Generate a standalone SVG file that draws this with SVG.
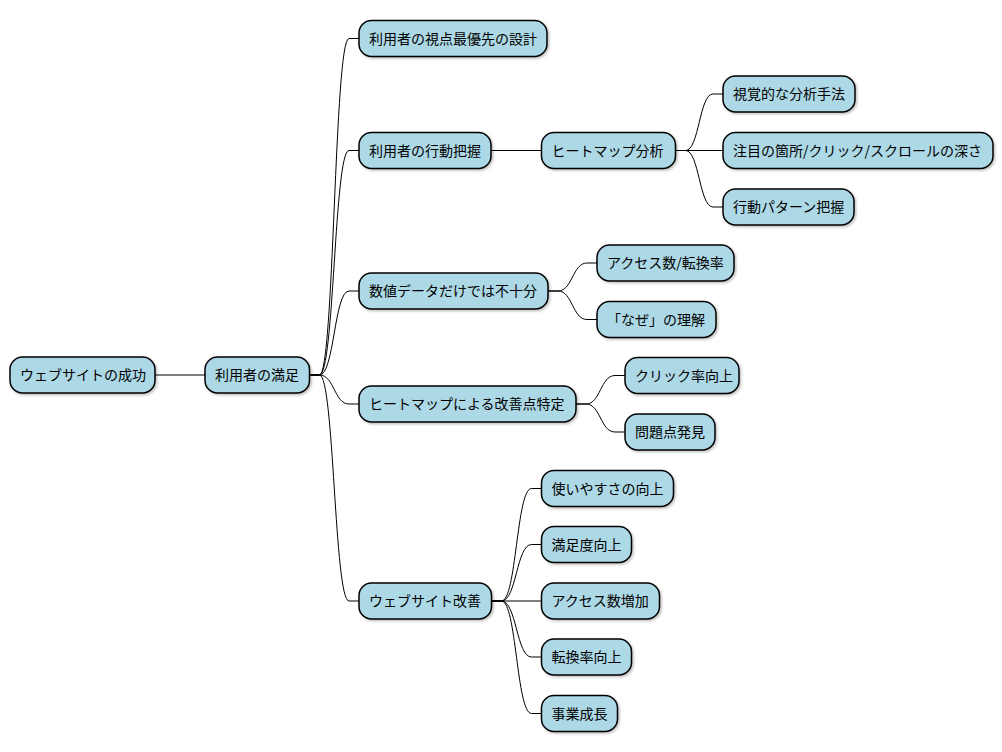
<svg xmlns="http://www.w3.org/2000/svg" width="1002" height="752" viewBox="0 0 1002 752">
<style>
.n rect{fill:#ADD8E6;stroke:#000;stroke-width:1.5;filter:url(#sh)}
.n text{font-family:"Noto Sans CJK JP","Noto Sans",sans-serif;font-size:14px;fill:#000}
.c path{fill:none;stroke:#000;stroke-width:1}
</style>
<defs>
<filter id="sh" x="-10%" y="-20%" width="130%" height="160%">
<feDropShadow dx="1.5" dy="1.5" stdDeviation="1.2" flood-color="#000" flood-opacity="0.25"/>
</filter>
</defs>
<rect width="1002" height="752" fill="#fff"/>
<g id="connectors" class="c">
<path d="M155,375 H205"/>
<path d="M309.5,375 H319.5 C334.25,375 334.25,38.5 349,38.5 H359"/>
<path d="M309.5,375 H319.5 C334.25,375 334.25,150.5 349,150.5 H359"/>
<path d="M309.5,375 H319.5 C334.25,375 334.25,291 349,291 H359"/>
<path d="M309.5,375 H319.5 C334.25,375 334.25,404 349,404 H359"/>
<path d="M309.5,375 H319.5 C334.25,375 334.25,601 349,601 H359"/>
<path d="M491,150.5 H541.5"/>
<path d="M675.5,150.5 H685.5 C699.25,150.5 699.25,94 713,94 H723"/>
<path d="M675.5,150.5 H723"/>
<path d="M675.5,150.5 H685.5 C699.25,150.5 699.25,207 713,207 H723"/>
<path d="M548,291 H558 C572.5,291 572.5,263 587,263 H597"/>
<path d="M548,291 H558 C572.5,291 572.5,319.5 587,319.5 H597"/>
<path d="M576,404 H586 C600.5,404 600.5,375.5 615,375.5 H625"/>
<path d="M576,404 H586 C600.5,404 600.5,432 615,432 H625"/>
<path d="M491.5,601 H501.5 C516.5,601 516.5,488.5 531.5,488.5 H541.5"/>
<path d="M491.5,601 H501.5 C516.5,601 516.5,544.5 531.5,544.5 H541.5"/>
<path d="M491.5,601 H541.5"/>
<path d="M491.5,601 H501.5 C516.5,601 516.5,657 531.5,657 H541.5"/>
<path d="M491.5,601 H501.5 C516.5,601 516.5,713.5 531.5,713.5 H541.5"/>
</g>
<g id="root" class="n"><rect x="10" y="357" width="145" height="36" rx="12.5"/><text x="20" y="380">ウェブサイトの成功</text></g>
<g id="satisfaction" class="n"><rect x="205" y="357" width="104.5" height="36" rx="12.5"/><text x="215" y="380">利用者の満足</text></g>
<g id="n1" class="n"><rect x="359" y="20.5" width="188" height="36" rx="12.5"/><text x="369" y="43.5">利用者の視点最優先の設計</text></g>
<g id="n2" class="n"><rect x="359" y="132.5" width="132" height="36" rx="12.5"/><text x="369" y="155.5">利用者の行動把握</text></g>
<g id="n2a" class="n"><rect x="541.5" y="132.5" width="134" height="36" rx="12.5"/><text x="551.5" y="155.5">ヒートマップ分析</text></g>
<g id="n2a1" class="n"><rect x="723" y="76" width="132" height="36" rx="12.5"/><text x="733" y="99">視覚的な分析手法</text></g>
<g id="n2a2" class="n"><rect x="723" y="132.5" width="270" height="36" rx="12.5"/><text x="733" y="155.5">注目の箇所/クリック/スクロールの深さ</text></g>
<g id="n2a3" class="n"><rect x="723" y="189" width="131" height="36" rx="12.5"/><text x="733" y="212">行動パターン把握</text></g>
<g id="n3" class="n"><rect x="359" y="273" width="189" height="36" rx="12.5"/><text x="369" y="296">数値データだけでは不十分</text></g>
<g id="n3a" class="n"><rect x="597" y="245" width="137" height="36" rx="12.5"/><text x="607" y="268">アクセス数/転換率</text></g>
<g id="n3b" class="n"><rect x="597" y="301.5" width="119" height="36" rx="12.5"/><text x="607" y="324.5">「なぜ」の理解</text></g>
<g id="n4" class="n"><rect x="359" y="386" width="217" height="36" rx="12.5"/><text x="369" y="409">ヒートマップによる改善点特定</text></g>
<g id="n4a" class="n"><rect x="625" y="357.5" width="114" height="36" rx="12.5"/><text x="635" y="380.5">クリック率向上</text></g>
<g id="n4b" class="n"><rect x="625" y="414" width="90" height="36" rx="12.5"/><text x="635" y="437">問題点発見</text></g>
<g id="n5" class="n"><rect x="359" y="583" width="132.5" height="36" rx="12.5"/><text x="369" y="606">ウェブサイト改善</text></g>
<g id="n5a" class="n"><rect x="541.5" y="470.5" width="132" height="36" rx="12.5"/><text x="551.5" y="493.5">使いやすさの向上</text></g>
<g id="n5b" class="n"><rect x="541.5" y="526.5" width="90" height="36" rx="12.5"/><text x="551.5" y="549.5">満足度向上</text></g>
<g id="n5c" class="n"><rect x="541.5" y="583" width="118" height="36" rx="12.5"/><text x="551.5" y="606">アクセス数増加</text></g>
<g id="n5d" class="n"><rect x="541.5" y="639" width="90" height="36" rx="12.5"/><text x="551.5" y="662">転換率向上</text></g>
<g id="n5e" class="n"><rect x="541.5" y="695.5" width="76" height="36" rx="12.5"/><text x="551.5" y="718.5">事業成長</text></g>
</svg>
